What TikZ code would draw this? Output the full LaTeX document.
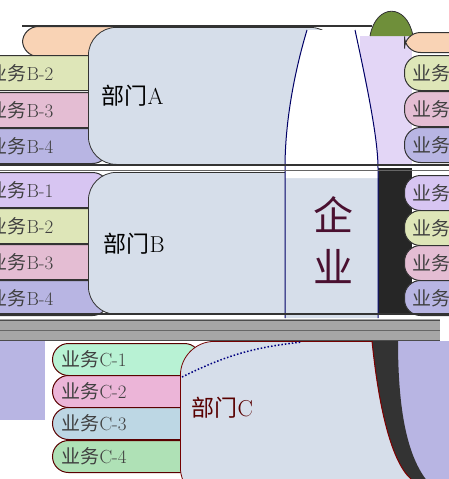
\documentclass[tikz,border=0pt]{standalone}
\usepackage{fontspec}
\newfontfamily\cjk{Noto Sans CJK SC}
\usetikzlibrary{positioning}
\newcommand{\zh}[1]{{\cjk #1}}
\usepackage{xcolor}
\definecolor{deptblue}{HTML}{D6DEEA}
\definecolor{peach}{HTML}{F9D3B5}
\definecolor{lime}{HTML}{DEE6B8}
\definecolor{rosy}{HTML}{E4BDD3}
\definecolor{lav}{HTML}{B8B5E3}
\definecolor{violet}{HTML}{D7C5F2}
\definecolor{mint}{HTML}{B8F2D4}
\definecolor{pink}{HTML}{ECB5D8}
\definecolor{pale}{HTML}{BDD7E4}
\definecolor{leaf}{HTML}{AFE1B6}
\definecolor{olive}{HTML}{6F8F3A}
\definecolor{maroon}{HTML}{4A1030}

\begin{document}
\begin{tikzpicture}[
    x=1pt,y=-1pt,
    dept/.style={rectangle,rounded corners=28pt,fill=deptblue,draw=black!80,line width=0.8pt,anchor=north west},
    deptlabel/.style={font=\fontsize{23}{24}\selectfont,text=black,anchor=west},
    item/.style={rectangle,rounded corners=16pt,draw=black!80,line width=1pt,anchor=north west,
      minimum height=35pt,align=left,font=\fontsize{19}{20}\selectfont,text=black!75},
    leftitem/.style={item,inner xsep=30pt,text width=90pt},
    citem/.style={item,draw=red!35!black,minimum height=32pt,inner xsep=9pt,text width=130pt},
    ritem/.style={item,inner xsep=8pt,text width=70pt},
    band/.style={line width=2.5pt,draw=black!80}
  ]
  \useasboundingbox (0,0) rectangle (449,479);
  \clip (0,0) rectangle (449,479);

  % left items, row A and row B
  \node[item,fill=peach,minimum width=200pt,minimum height=30pt,text width=150pt,inner xsep=10pt] (a1) at (22,26) {};
  \node[leftitem,fill=lime] (a2) at (-42,55) {\zh{业务}B-2};
  \node[leftitem,fill=rosy] (a3) at (-42,92) {\zh{业务}B-3};
  \node[leftitem,fill=lav] (a4) at (-42,128) {\zh{业务}B-4};
  \node[leftitem,fill=violet] (b1) at (-42,172) {\zh{业务}B-1};
  \node[leftitem,fill=lime] (b2) at (-42,208) {\zh{业务}B-2};
  \node[leftitem,fill=rosy] (b3) at (-42,244) {\zh{业务}B-3};
  \node[leftitem,fill=lav] (b4) at (-42,280) {\zh{业务}B-4};

  % departments A and B
  \node[dept,minimum width=250pt,minimum height=137pt] (depta) at (88,27) {};
  \node[deptlabel] (lbla) at ([xshift=10pt]depta.west) {\zh{部门}A};
  \node[dept,minimum width=250pt,minimum height=142pt] (deptb) at (88,172) {};
  \node[deptlabel] (lblb) at ([xshift=12pt]deptb.west) {\zh{部门}B};

  % gaps on the right of the column
  \fill[violet!70] (360,36) rectangle (412,164);
  \fill[black!85] (370,168) rectangle (412,315);
  \fill[olive] (370,36) .. controls (376,3) and (407,3) .. (413,36) -- cycle;
  \draw[black!80,line width=0.8pt] (370,36) .. controls (376,3) and (407,3) .. (413,36);

  % right items
  \node[ritem,fill=peach,minimum height=20pt] (r0) at (404,32) {};
  \node[ritem,fill=lime] (r1) at (404,55) {\zh{业务}B-2};
  \node[ritem,fill=rosy] (r2) at (404,91) {\zh{业务}B-3};
  \node[ritem,fill=lav] (r3) at (404,127) {\zh{业务}B-4};
  \node[ritem,fill=violet] (r4) at (404,175) {\zh{业务}B-1};
  \node[ritem,fill=lime] (r5) at (404,210) {\zh{业务}B-2};
  \node[ritem,fill=rosy] (r6) at (404,245) {\zh{业务}B-3};
  \node[ritem,fill=lav] (r7) at (404,280) {\zh{业务}B-4};

  % the enterprise column
  \fill[deptblue]
    (307,30) -- (355,30) .. controls (368,90) and (378,140) .. (378,168)
    -- (378,318) -- (285,318) -- (285,168) .. controls (285,120) and (295,70) .. (307,30) -- cycle;
  \fill[white]
    (307,30) -- (355,30) .. controls (368,90) and (378,140) .. (378,168)
    -- (378,178) -- (285,178) -- (285,168) .. controls (285,120) and (295,70) .. (307,30) -- cycle;
  \draw[blue!40!black,line width=1pt] (307,30) .. controls (295,70) and (285,120) .. (285,168) -- (285,318);
  \draw[blue!40!black,line width=1pt] (355,30) .. controls (368,90) and (378,140) .. (378,168) -- (378,318);
  \node[font=\fontsize{40}{52}\selectfont\cjk,text=maroon,align=center] (corp) at (333,240) {企\\业};

  % bands between the rows
  \draw[band] (22,26) -- (372,26);
  \draw[band] (0,165) -- (449,165);
  \draw[line width=1pt,black!60] (0,170) -- (449,170);
  \draw[band] (0,314) -- (449,314);
  \fill[black!35] (0,319) rectangle (440,341);
  \draw[black!70,line width=1pt] (0,320) -- (440,320);
  \draw[black!60,line width=1pt] (0,330) -- (440,330);
  \draw[black!70,line width=1pt] (0,340) -- (440,340);
  \fill[lav] (0,341) rectangle (45,420);

  % items of department C
  \node[citem,fill=mint] (c1) at (52,343) {\zh{业务}C-1};
  \node[citem,fill=pink] (c2) at (52,375) {\zh{业务}C-2};
  \node[citem,fill=pale] (c3) at (52,407) {\zh{业务}C-3};
  \node[citem,fill=leaf] (c4) at (52,440) {\zh{业务}C-4};

  % department C
  \node[dept,draw=red!45!black,minimum width=260pt,minimum height=160pt,rounded corners=34pt] (deptc) at (180,341) {};
  \node[deptlabel,text=red!35!black] (lblc) at (188,408) {\zh{部门}C};
  \coordinate (cdota) at (182,377);
  \coordinate (cdotb) at (302,342);
  \draw[dotted,line width=1.5pt,blue!50!black] (cdota) to[bend left=10] (cdotb);

  % lower right part
  \fill[lav] (372,341) .. controls (380,420) and (395,470) .. (415,482) -- (452,482) -- (452,341) -- cycle;
  \fill[black!80] (372,341) .. controls (380,420) and (395,470) .. (415,482) -- (428,482)
    .. controls (410,460) and (398,420) .. (398,341) -- cycle;
  \draw[red!50!black,line width=1pt] (372,341) .. controls (380,420) and (395,470) .. (415,482);
\end{tikzpicture}
\end{document}
